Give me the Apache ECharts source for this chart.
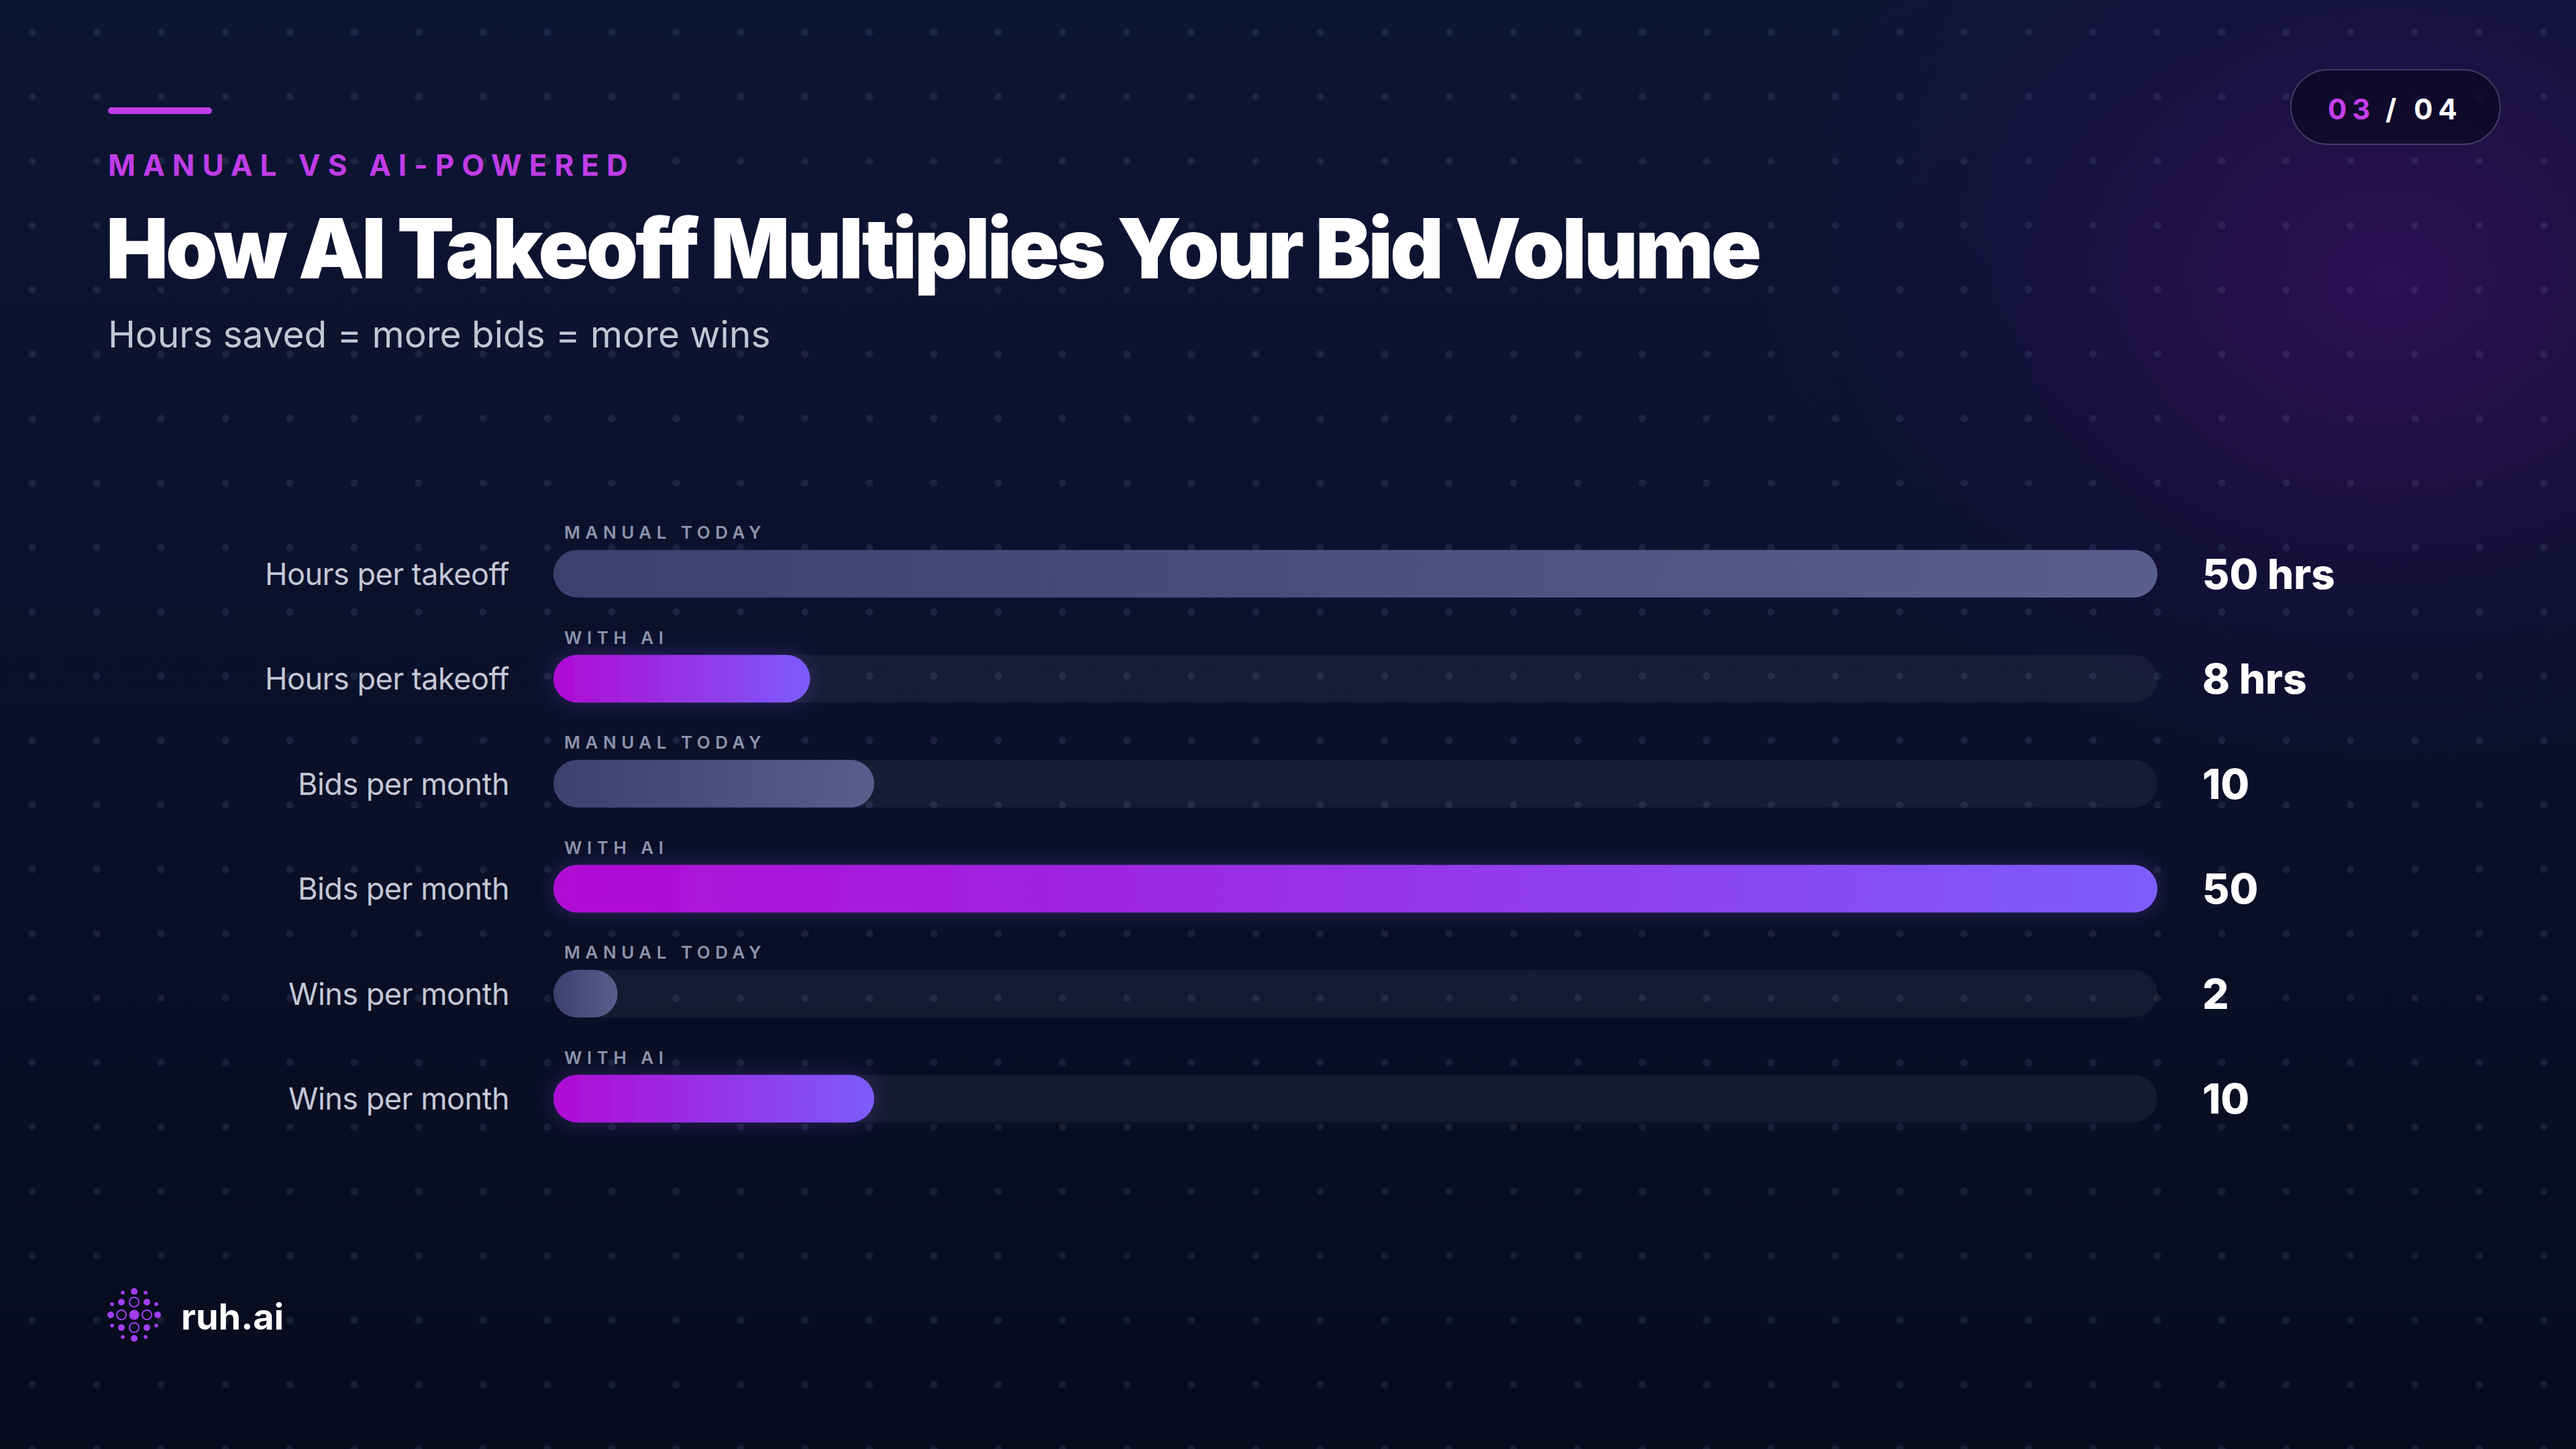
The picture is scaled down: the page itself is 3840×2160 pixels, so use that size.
<!DOCTYPE html>
<html>
<head>
<meta charset="utf-8">
<title>How AI Takeoff Multiplies Your Bid Volume</title>
<script src="https://cdn.jsdelivr.net/npm/echarts@6/dist/echarts.min.js"></script>
<style>
html, body { margin: 0; padding: 0; }
body {
	width: 3840px; height: 2160px; overflow: hidden;
	background-color: #0a1029;
	background-image:
		radial-gradient(circle at 48px 48px, rgba(150,160,200,0.12) 0, rgba(150,160,200,0.12) 5px, rgba(0,0,0,0) 6px),
		radial-gradient(ellipse 1200px 950px at 3560px 420px, rgba(66,14,108,0.6), rgba(42,12,84,0.3) 45%, rgba(0,0,0,0) 78%),
		linear-gradient(180deg, #0d1534 0%, #0a1029 55%, #070b1c 100%);
	background-size: 96px 96px, 3840px 2160px, 3840px 2160px;
}
#container { width: 3840px; height: 2160px; }
/* svg renderer keeps the fill attribute, so the spaced caps can be picked by colour */
#container text[fill="#c03ce6"] { letter-spacing: 11px; }
#container text[fill="#8c93ab"] { letter-spacing: 7.5px; }
#container text[fill="#c43ee9"] { letter-spacing: 8px; }
#container text[fill="#fefefe"] { letter-spacing: 8px; }
#container text[fill="#ffffff"] { letter-spacing: -4px; }
#container text[fill="#c4c8d6"] { letter-spacing: -0.5px; }
</style>
</head>
<body>
<div id="container"></div>
<script>
// rows, top to bottom
var rowLabels = ['Hours per takeoff', 'Hours per takeoff', 'Bids per month', 'Bids per month', 'Wins per month', 'Wins per month'];
var rowTags = ['MANUAL TODAY', 'WITH AI', 'MANUAL TODAY', 'WITH AI', 'MANUAL TODAY', 'WITH AI'];
var rowValues = [50, 8, 10, 50, 2, 10];
var valueLabels = ['50 hrs', '8 hrs', '10', '50', '2', '10'];
var axisMax = 50;

var FONT = 'Inter, "Noto Sans", sans-serif';

function barColor(tag) {
	if (tag === 'WITH AI') {
		return new echarts.graphic.LinearGradient(0, 0, 1, 0, [
			{ offset: 0, color: '#b00bd4' },
			{ offset: 1, color: '#7c5cfb' }
		]);
	}
	return new echarts.graphic.LinearGradient(0, 0, 1, 0, [
		{ offset: 0, color: '#3b406e' },
		{ offset: 1, color: '#5a5e8d' }
	]);
}

function logo(cx, cy) {
	var c = '#a23ef0';
	var parts = [];
	function dot(dx, dy, r, ring) {
		parts.push({
			type: 'circle',
			shape: { cx: cx + dx, cy: cy + dy, r: r },
			style: ring ? { fill: 'none', stroke: c, lineWidth: 2 } : { fill: c }
		});
	}
	dot(0, 0, 7.5);
	dot(0, -19, 7, true); dot(0, 19, 7, true); dot(-19, 0, 7, true); dot(19, 0, 7, true);
	dot(-19, -19, 5); dot(19, -19, 5); dot(-19, 19, 5); dot(19, 19, 5);
	dot(0, -35, 5); dot(0, 35, 5); dot(-35, 0, 5); dot(35, 0, 5);
	dot(-17, -33, 3); dot(17, -33, 3); dot(-33, -16, 3); dot(33, -16, 3);
	dot(-33, 16, 3); dot(33, 16, 3); dot(-17, 33, 3); dot(17, 33, 3);
	return parts;
}

function text(x, y, str, size, weight, color, align) {
	return {
		type: 'text', x: x, y: y,
		style: {
			text: str, fontSize: size, fontWeight: weight, fontFamily: FONT, fill: color,
			align: align || 'left', textAlign: align || 'left',
			verticalAlign: 'middle', textVerticalAlign: 'middle'
		}
	};
}

function main() {
	var dom = document.getElementById('container');
	var myChart = echarts.init(dom, null, { renderer: 'svg' });

	var barData = rowValues.map(function (v, i) {
		var ai = rowTags[i] === 'WITH AI';
		return {
			value: v,
			itemStyle: {
				color: barColor(rowTags[i]),
				shadowBlur: ai ? 30 : 0,
				shadowColor: ai ? 'rgba(140,80,255,0.28)' : 'transparent'
			}
		};
	});

	var graphic = [
		// accent line + header
		{ type: 'rect', shape: { x: 161, y: 160, width: 155, height: 10, r: 5 }, style: { fill: '#c03ce6' } },
		text(161, 246, 'MANUAL VS AI-POWERED', 44, 700, '#c03ce6'),
		text(158, 370, 'How AI Takeoff Multiplies Your Bid Volume', 124, 900, '#ffffff'),
		text(161, 498, 'Hours saved = more bids = more wins', 55, 400, '#c3c7d3'),
		// page badge
		{ type: 'rect', shape: { x: 3415, y: 104, width: 312, height: 111, r: 55.5 },
			style: { fill: 'rgba(12,8,34,0.75)', stroke: 'rgba(150,140,190,0.35)', lineWidth: 2 } },
		text(3470, 162, '03', 42, 700, '#c43ee9'),
		text(3556, 162, '/ 04', 42, 700, '#fefefe'),
		// footer brand
		text(270, 1962, 'ruh.ai', 54, 700, '#fff')
	].concat(logo(200, 1960));

	var option = {
		backgroundColor: 'transparent',
		animation: false,
		graphic: graphic,
		grid: { left: 825, right: 624, top: 777, bottom: 444, containLabel: false },
		xAxis: { type: 'value', min: 0, max: axisMax, show: false },
		yAxis: {
			type: 'category',
			inverse: true,
			data: rowLabels,
			axisLine: { show: false },
			axisTick: { show: false },
			axisLabel: {
				margin: 66, fontSize: 45, color: '#c4c8d6', fontFamily: FONT,
				formatter: function (value, index) { return rowLabels[index]; }
			}
		},
		series: [
			{
				// invisible carrier for the value text at the track end
				type: 'bar', silent: true, barWidth: 71, barGap: '-100%',
				data: rowValues.map(function () { return axisMax; }),
				itemStyle: { color: 'transparent' },
				label: {
					show: true, position: 'right', distance: 67,
					fontSize: 62, fontWeight: 800, fontFamily: FONT, color: '#fff',
					formatter: function (p) { return valueLabels[p.dataIndex]; }
				}
			},
			{
				type: 'bar', barWidth: 71, barGap: '-100%',
				data: barData,
				showBackground: true,
				backgroundStyle: { color: 'rgba(255,255,255,0.05)', borderRadius: 36 },
				itemStyle: { borderRadius: 36 },
				label: {
					show: true, position: [16, -26], align: 'left', verticalAlign: 'middle',
					fontSize: 26, fontWeight: 600, fontFamily: FONT, color: '#8c93ab',
					formatter: function (p) { return rowTags[p.dataIndex]; }
				}
			}
		]
	};
	myChart.setOption(option, true);
}
main();
</script>
</body>
</html>
